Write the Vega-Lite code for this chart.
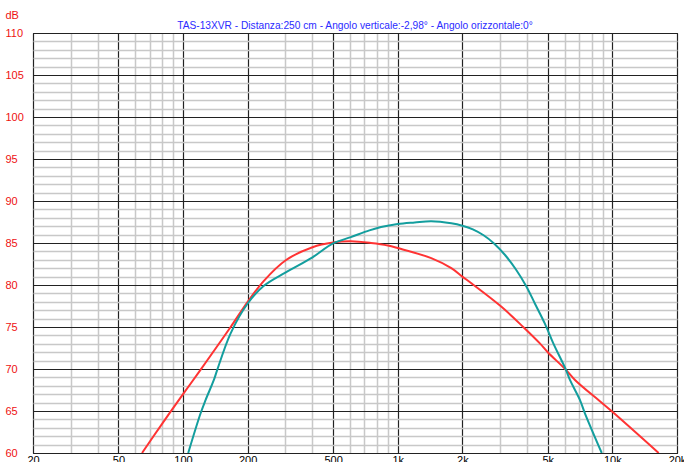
{
  "$schema": "https://vega.github.io/schema/vega-lite/v6.json",
  "width": 644,
  "height": 420,
  "autosize": {"type": "none"},
  "padding": {"left": 33, "top": 33, "right": 7, "bottom": 9},
  "background": "white",
  "title": {
    "text": "TAS-13XVR - Distanza:250 cm - Angolo verticale:-2,98° - Angolo orizzontale:0°",
    "color": "#2b2bff",
    "font": "Liberation Sans",
    "fontSize": 10.2,
    "fontWeight": "normal",
    "anchor": "middle",
    "offset": -22
  },
  "config": {"view": {"stroke": "#000000", "strokeWidth": 1}},
  "data": {
    "values": [
      {"series": "red", "freq": 64.4, "db": 60.0},
      {"series": "red", "freq": 80, "db": 63.5},
      {"series": "red", "freq": 100, "db": 67.0},
      {"series": "red", "freq": 120.6, "db": 69.9},
      {"series": "red", "freq": 166.6, "db": 75.0},
      {"series": "red", "freq": 200, "db": 78.0},
      {"series": "red", "freq": 238, "db": 80.5},
      {"series": "red", "freq": 301, "db": 82.95},
      {"series": "red", "freq": 401, "db": 84.5},
      {"series": "red", "freq": 500, "db": 85.05},
      {"series": "red", "freq": 605, "db": 85.2},
      {"series": "red", "freq": 751, "db": 85.0},
      {"series": "red", "freq": 900, "db": 84.7},
      {"series": "red", "freq": 1000, "db": 84.4},
      {"series": "red", "freq": 1433, "db": 83.2},
      {"series": "red", "freq": 1777, "db": 82.0},
      {"series": "red", "freq": 2000, "db": 81.0},
      {"series": "red", "freq": 2204, "db": 80.2},
      {"series": "red", "freq": 3044, "db": 77.4},
      {"series": "red", "freq": 3843, "db": 75.0},
      {"series": "red", "freq": 4594, "db": 73.05},
      {"series": "red", "freq": 5000, "db": 72.0},
      {"series": "red", "freq": 6078, "db": 69.9},
      {"series": "red", "freq": 6696, "db": 68.7},
      {"series": "red", "freq": 8612, "db": 66.3},
      {"series": "red", "freq": 10000, "db": 64.9},
      {"series": "red", "freq": 16425, "db": 60.0},
      {"series": "teal", "freq": 105.7, "db": 60.0},
      {"series": "teal", "freq": 120.6, "db": 64.7},
      {"series": "teal", "freq": 127.3, "db": 66.3},
      {"series": "teal", "freq": 139.2, "db": 68.7},
      {"series": "teal", "freq": 144.3, "db": 69.9},
      {"series": "teal", "freq": 166.6, "db": 74.25},
      {"series": "teal", "freq": 200, "db": 77.8},
      {"series": "teal", "freq": 238, "db": 79.9},
      {"series": "teal", "freq": 301, "db": 81.5},
      {"series": "teal", "freq": 401, "db": 83.3},
      {"series": "teal", "freq": 500, "db": 84.95},
      {"series": "teal", "freq": 605, "db": 85.7},
      {"series": "teal", "freq": 738, "db": 86.5},
      {"series": "teal", "freq": 836, "db": 86.9},
      {"series": "teal", "freq": 1000, "db": 87.26},
      {"series": "teal", "freq": 1200, "db": 87.45},
      {"series": "teal", "freq": 1433, "db": 87.6},
      {"series": "teal", "freq": 1777, "db": 87.35},
      {"series": "teal", "freq": 2000, "db": 87.06},
      {"series": "teal", "freq": 2239, "db": 86.62},
      {"series": "teal", "freq": 2512, "db": 85.92},
      {"series": "teal", "freq": 2818, "db": 84.92},
      {"series": "teal", "freq": 3162, "db": 83.57},
      {"series": "teal", "freq": 3548, "db": 81.87},
      {"series": "teal", "freq": 3981, "db": 79.8},
      {"series": "teal", "freq": 4354, "db": 77.8},
      {"series": "teal", "freq": 4848, "db": 75.4},
      {"series": "teal", "freq": 5307, "db": 73.05},
      {"series": "teal", "freq": 6078, "db": 69.9},
      {"series": "teal", "freq": 6343, "db": 68.7},
      {"series": "teal", "freq": 7065, "db": 66.3},
      {"series": "teal", "freq": 7456, "db": 64.7},
      {"series": "teal", "freq": 8923, "db": 60.0}
    ]
  },
  "mark": {"type": "line", "strokeWidth": 2, "clip": true, "interpolate": "catmull-rom"},
  "encoding": {
    "x": {
      "field": "freq",
      "type": "quantitative",
      "scale": {"type": "log", "domain": [20, 20000], "nice": false},
      "axis": {
        "title": null,
        "values": [20, 30, 40, 50, 60, 70, 80, 90, 100, 200, 300, 400, 500, 600, 700, 800, 900, 1000, 2000, 3000, 4000, 5000, 6000, 7000, 8000, 9000, 10000, 20000],
        "labelExpr": "(datum.value == 20 || datum.value == 50 || datum.value == 100 || datum.value == 200 || datum.value == 500 || datum.value == 1000 || datum.value == 2000 || datum.value == 5000 || datum.value == 10000 || datum.value == 20000) ? (datum.value >= 1000 ? (datum.value / 1000) + 'k' : '' + datum.value) : ''",
        "grid": true,
        "gridColor": {"condition": {"test": "datum.value == 20 || datum.value == 50 || datum.value == 100 || datum.value == 200 || datum.value == 500 || datum.value == 1000 || datum.value == 2000 || datum.value == 5000 || datum.value == 10000 || datum.value == 20000", "value": "#222222"}, "value": "#c8c8c8"},
        "gridWidth": {"condition": {"test": "datum.value == 20 || datum.value == 50 || datum.value == 100 || datum.value == 200 || datum.value == 500 || datum.value == 1000 || datum.value == 2000 || datum.value == 5000 || datum.value == 10000 || datum.value == 20000", "value": 1.2}, "value": 1.5},
        "ticks": false,
        "tickSize": 0,
        "domain": false,
        "labelPadding": 1,
        "labelBaseline": "top",
        "labelFont": "Liberation Sans",
        "labelFontSize": 11,
        "labelColor": "#000000",
        "labelOverlap": false,
        "labelBound": false,
        "labelFlush": false
      }
    },
    "y": {
      "field": "db",
      "type": "quantitative",
      "scale": {"domain": [60, 110], "nice": false, "zero": false},
      "axis": {
        "title": "dB",
        "titleAngle": 0,
        "titleColor": "#ee1111",
        "titleFont": "Liberation Sans",
        "titleFontSize": 11,
        "titleFontWeight": "normal",
        "titleAlign": "left",
        "titleBaseline": "middle",
        "titleX": -28,
        "titleY": -18,
        "values": [60, 61, 62, 63, 64, 65, 66, 67, 68, 69, 70, 71, 72, 73, 74, 75, 76, 77, 78, 79, 80, 81, 82, 83, 84, 85, 86, 87, 88, 89, 90, 91, 92, 93, 94, 95, 96, 97, 98, 99, 100, 101, 102, 103, 104, 105, 106, 107, 108, 109, 110],
        "labelExpr": "datum.value % 5 == 0 ? '' + datum.value : ''",
        "grid": true,
        "gridColor": {"condition": {"test": "datum.value % 5 == 0", "value": "#222222"}, "value": "#c8c8c8"},
        "gridWidth": {"condition": {"test": "datum.value % 5 == 0", "value": 1.2}, "value": 1.5},
        "ticks": false,
        "tickSize": 0,
        "domain": false,
        "labelPadding": 28,
        "labelAlign": "left",
        "labelBaseline": "middle",
        "labelFont": "Liberation Sans",
        "labelFontSize": 11,
        "labelColor": "#ee1111",
        "labelOverlap": false,
        "labelBound": false,
        "labelFlush": false
      }
    },
    "color": {
      "field": "series",
      "type": "nominal",
      "scale": {"domain": ["red", "teal"], "range": ["#ff3333", "#139e9e"]},
      "legend": null
    }
  }
}
